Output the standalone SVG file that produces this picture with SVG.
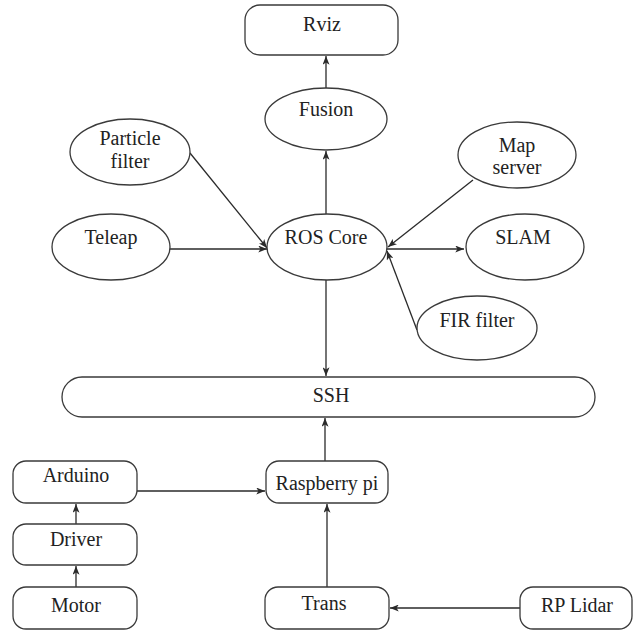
<svg xmlns="http://www.w3.org/2000/svg" width="635" height="633" viewBox="0 0 635 633">
<defs>
<marker id="ah" viewBox="0 0 10 8" refX="10" refY="4" markerWidth="10" markerHeight="7" markerUnits="userSpaceOnUse" orient="auto">
<path d="M0,0 L10,4 L0,8 L2.5,4 Z" fill="#2a2a2a"/>
</marker>
</defs>
<style>
.n{fill:#fff;stroke:#3a3a3a;stroke-width:1.3}
.t{font-family:'Liberation Serif','DejaVu Serif','Times New Roman',serif;font-size:20px;fill:#222;text-anchor:middle}
.e{stroke:#2a2a2a;stroke-width:1.3;fill:none;marker-end:url(#ah)}
</style>
<rect width="635" height="633" fill="#fff"/>
<g id="connectors">
<line class="e" x1="326" y1="88" x2="326" y2="56"/>
<line class="e" x1="326" y1="214" x2="326" y2="151"/>
<line class="e" x1="190" y1="153" x2="267" y2="248"/>
<line class="e" x1="170" y1="249" x2="267" y2="249"/>
<line class="e" x1="473" y1="180" x2="388" y2="247"/>
<line class="e" x1="386" y1="249" x2="464" y2="249"/>
<line class="e" x1="417" y1="330" x2="387" y2="251"/>
<line class="e" x1="326" y1="280" x2="326" y2="376"/>
<line class="e" x1="325" y1="461" x2="325" y2="418"/>
<line class="e" x1="137" y1="491" x2="265" y2="491"/>
<line class="e" x1="76" y1="524" x2="76" y2="504"/>
<line class="e" x1="76" y1="587" x2="76" y2="566"/>
<line class="e" x1="327" y1="587" x2="327" y2="504"/>
<line class="e" x1="520" y1="608" x2="390" y2="608"/>
</g>
<g id="rviz"><rect class="n" x="245" y="5" width="153" height="50" rx="15"/><text class="t" x="322" y="31" font-family="Liberation Serif, serif">Rviz</text></g>
<g id="fusion"><ellipse class="n" cx="326" cy="119" rx="61" ry="31"/><text class="t" x="326" y="116">Fusion</text></g>
<g id="particle"><ellipse class="n" cx="130" cy="152" rx="60" ry="33"/><text class="t" x="130" y="145">Particle</text><text class="t" x="130" y="168">filter</text></g>
<g id="teleap"><ellipse class="n" cx="111" cy="247" rx="59" ry="33"/><text class="t" x="111" y="244">Teleap</text></g>
<g id="roscore"><ellipse class="n" cx="327" cy="247" rx="60" ry="33"/><text class="t" x="326" y="244">ROS Core</text></g>
<g id="mapserver"><ellipse class="n" cx="517" cy="155" rx="59" ry="33"/><text class="t" x="517" y="152">Map</text><text class="t" x="517" y="174">server</text></g>
<g id="slam"><ellipse class="n" cx="525" cy="247" rx="59" ry="33"/><text class="t" x="523" y="244">SLAM</text></g>
<g id="fir"><ellipse class="n" cx="477" cy="328" rx="60" ry="32"/><text class="t" x="477" y="327">FIR filter</text></g>
<g id="ssh"><rect class="n" x="62" y="377" width="533" height="40" rx="20"/><text class="t" x="331" y="402">SSH</text></g>
<g id="raspberry"><rect class="n" x="266" y="461" width="122" height="42" rx="13"/><text class="t" x="327" y="490">Raspberry pi</text></g>
<g id="arduino"><rect class="n" x="13" y="461" width="124" height="42" rx="13"/><text class="t" x="76" y="482">Arduino</text></g>
<g id="driver"><rect class="n" x="13" y="524" width="124" height="41" rx="13"/><text class="t" x="76" y="546">Driver</text></g>
<g id="motor"><rect class="n" x="13" y="587" width="124" height="42" rx="13"/><text class="t" x="76" y="612">Motor</text></g>
<g id="trans"><rect class="n" x="265" y="587" width="124" height="42" rx="13"/><text class="t" x="324" y="610">Trans</text></g>
<g id="rplidar"><rect class="n" x="520" y="587" width="112" height="42" rx="13"/><text class="t" x="577" y="612">RP Lidar</text></g>
</svg>
